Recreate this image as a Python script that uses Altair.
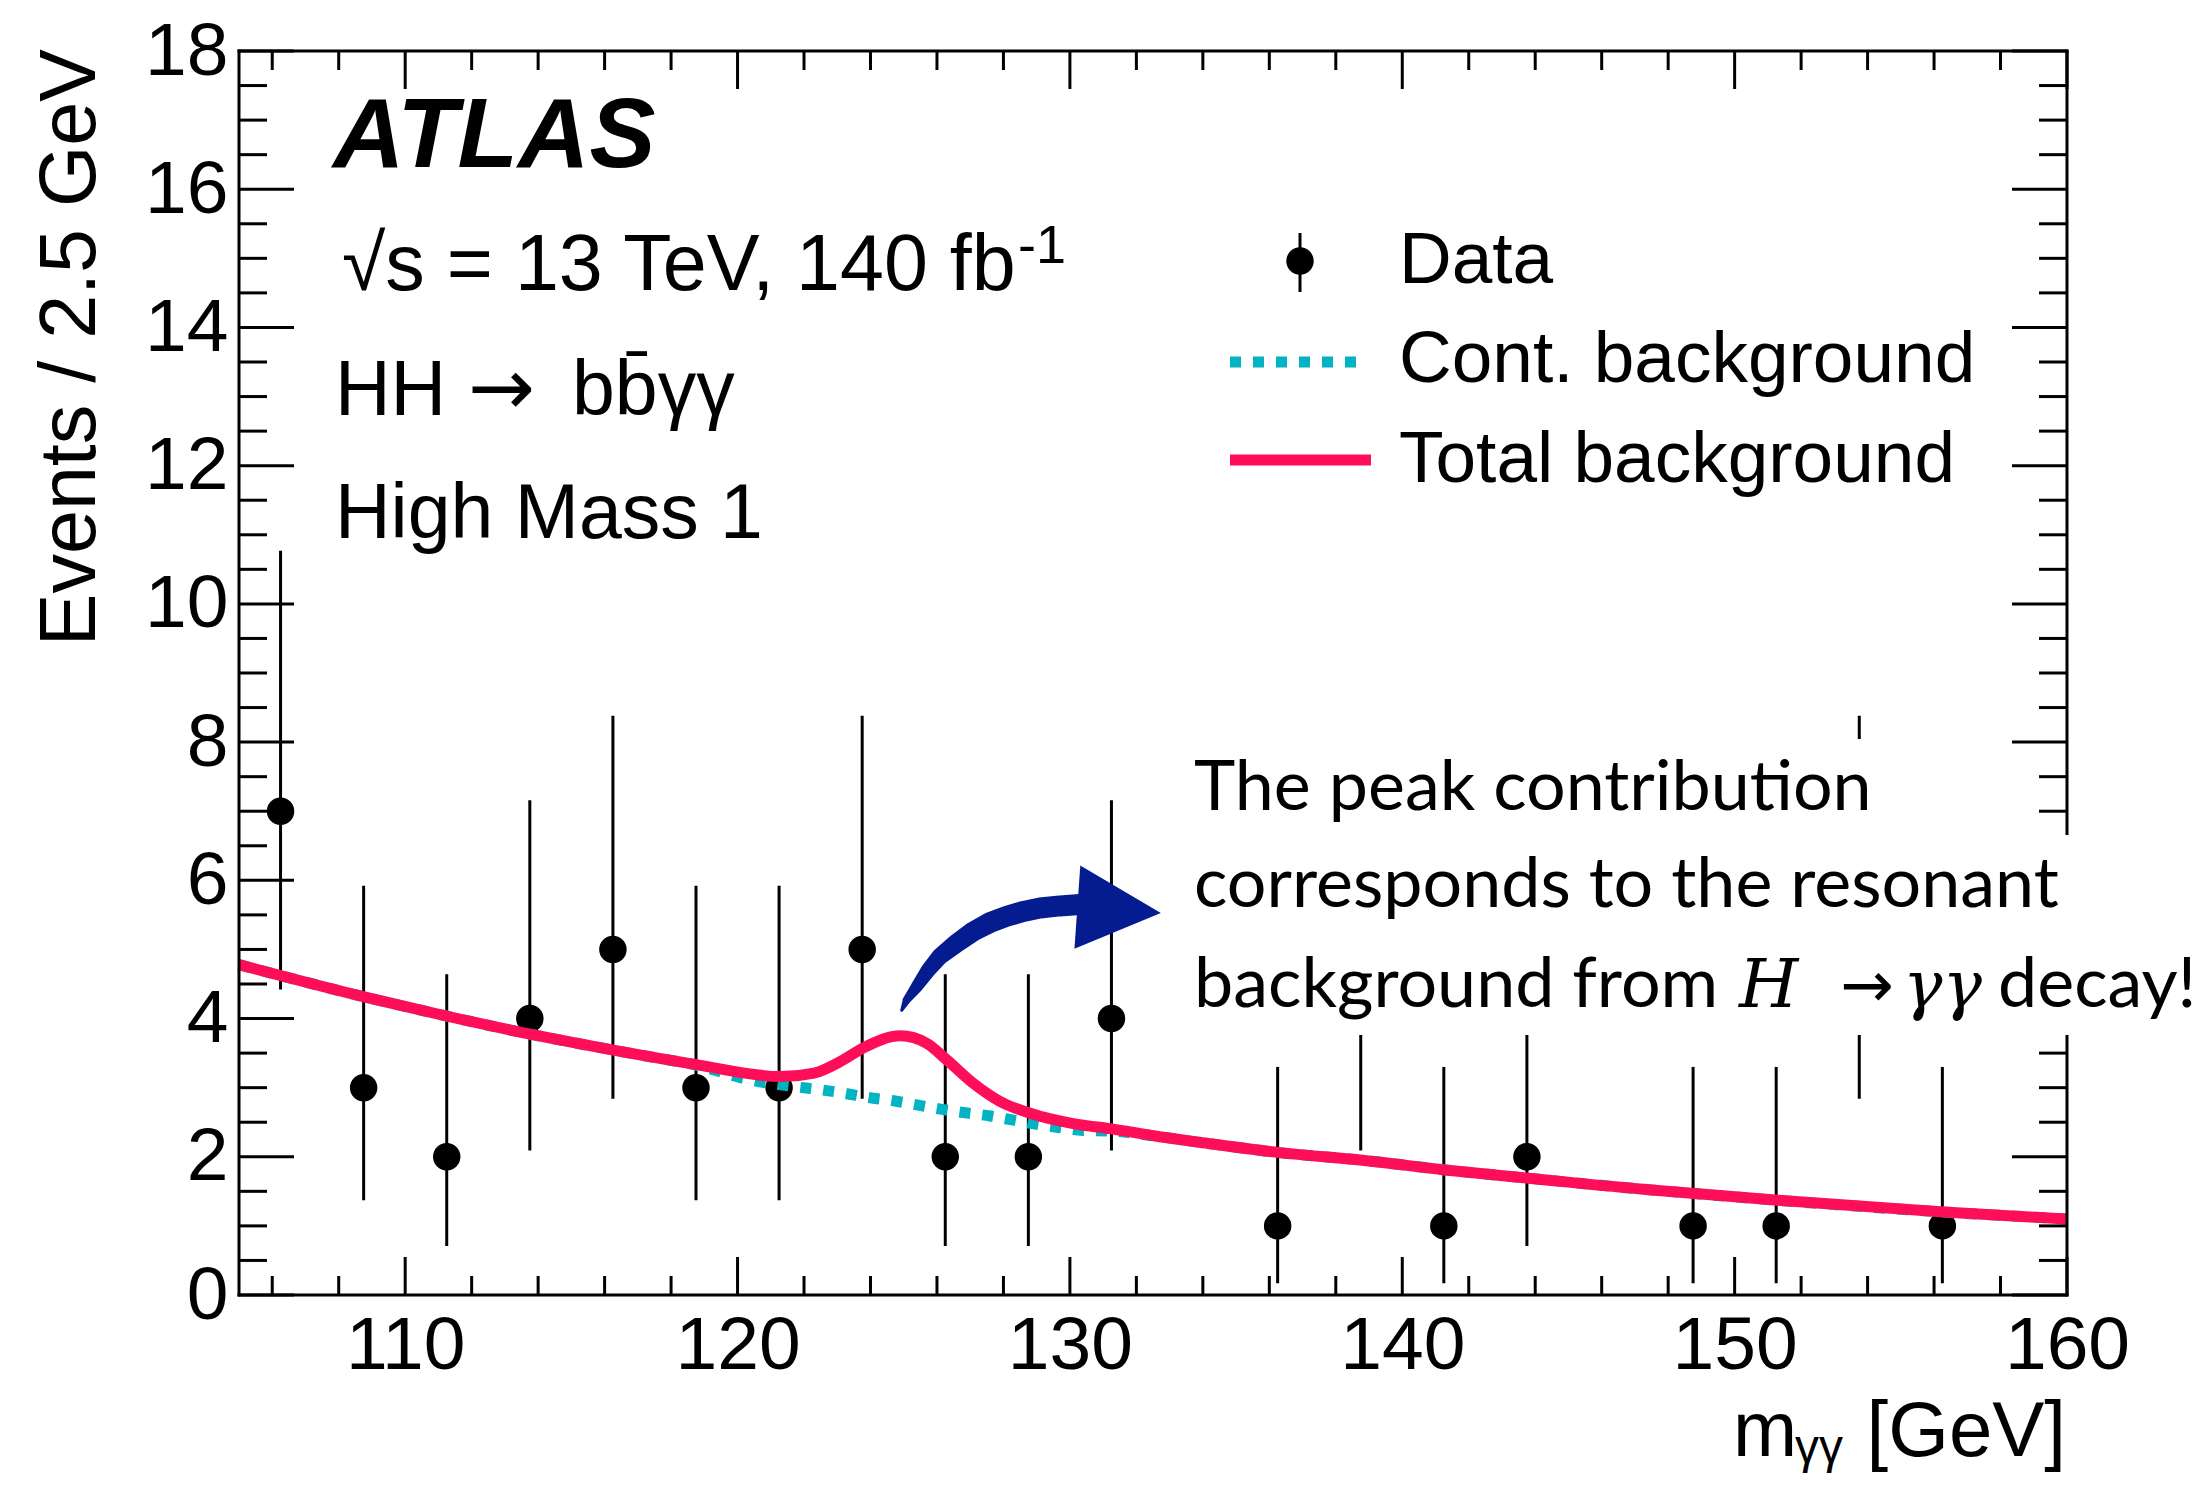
import altair as alt
import pandas as pd

# ---------------- values ----------------
bin_center = [106.25, 108.75, 111.25, 113.75, 116.25, 118.75, 121.25, 123.75, 126.25,
              128.75, 131.25, 136.25, 138.75, 141.25, 143.75, 148.75, 151.25, 153.75, 156.25]
events = [7, 3, 2, 4, 5, 3, 3, 5, 2, 2, 4, 1, 4, 1, 2, 1, 1, 5, 1]
err_low = [4.42, 1.37, 0.71, 2.09, 2.84, 1.37, 1.37, 2.84, 0.71, 0.71, 2.09, 0.17,
           2.09, 0.17, 0.71, 0.17, 0.17, 2.84, 0.17]
err_high = [10.77, 5.92, 4.64, 7.16, 8.38, 5.92, 5.92, 8.38, 4.64, 4.64, 7.16, 3.30,
            7.16, 3.30, 4.64, 3.30, 3.30, 8.38, 3.30]

total_x = [105.0, 108.8, 111.3, 113.8, 116.3, 117.1, 118.8, 121.3, 122.3, 123.1, 123.8,
           124.9, 125.7, 126.3, 127.1, 127.9, 128.8, 130.1, 131.3, 132.7, 133.9, 136.3,
           138.8, 141.3, 143.8, 147.5, 148.8, 151.3, 156.3, 160.0]
total_y = [4.78, 4.31, 4.03, 3.77, 3.54, 3.47, 3.33, 3.16, 3.21, 3.38, 3.58,
           3.75, 3.64, 3.40, 3.06, 2.80, 2.63, 2.48, 2.40, 2.29, 2.21, 2.06,
           1.95, 1.81, 1.69, 1.52, 1.47, 1.37, 1.20, 1.10]

cont_x = [105.0, 108.8, 111.3, 113.8, 116.3, 117.1, 118.8, 120.3, 121.8, 122.5, 123.2,
          123.9, 124.7, 125.4, 126.1, 126.8, 127.6, 128.3, 129.0, 129.7, 130.4, 131.3,
          132.7, 133.9, 136.3, 138.8, 141.3, 143.8, 147.5, 151.3, 156.3, 160.0]
cont_y = [4.78, 4.31, 4.03, 3.77, 3.54, 3.47, 3.32, 3.12, 3.01, 2.97, 2.92,
          2.86, 2.81, 2.75, 2.69, 2.64, 2.59, 2.53, 2.47, 2.42, 2.38, 2.37,
          2.29, 2.21, 2.06, 1.95, 1.81, 1.69, 1.52, 1.37, 1.20, 1.10]

x_major = [110, 120, 130, 140, 150, 160]
x_minor = [106, 108, 112, 114, 116, 118, 122, 124, 126, 128, 132, 134, 136, 138,
           142, 144, 146, 148, 152, 154, 156, 158]
y_major = [0, 2, 4, 6, 8, 10, 12, 14, 16, 18]
y_minor = [0.5, 1, 1.5, 2.5, 3, 3.5, 4.5, 5, 5.5, 6.5, 7, 7.5, 8.5, 9, 9.5, 10.5, 11,
           11.5, 12.5, 13, 13.5, 14.5, 15, 15.5, 16.5, 17, 17.5]

# hand-drawn annotation arrow (path in data units, brush width in px)
arrow_x = [124.94, 125.09, 125.39, 125.74, 126.09, 126.59, 127.09, 127.60, 128.10,
           128.60, 129.10, 129.70, 130.30]
arrow_y = [4.12, 4.27, 4.46, 4.70, 4.90, 5.09, 5.26, 5.39, 5.48, 5.55, 5.60, 5.63, 5.65]
arrow_w = [3, 8, 12, 15, 17, 19, 20, 21, 21, 21, 21, 21, 21]
arrow_head_x = [131.48]
arrow_head_y = [5.57]

# ---------------- styling ----------------
W, H = 1828, 1244
BLACK = "black"
RED = "#FE0E58"
CYAN = "#02B3C3"
NAVY = "#051C91"
SANS = "Liberation Sans"

xs = alt.Scale(domain=[105, 160], nice=False, zero=False)
ys = alt.Scale(domain=[0, 18], nice=False, zero=False)

x_axis = alt.Axis(values=x_major, format="d", labelFont=SANS, labelFontSize=75,
                  labelColor=BLACK, labelPadding=14, ticks=False, tickSize=0,
                  domain=False, grid=False, title=None, labelFlush=False,
                  labelOverlap=False)
y_axis = alt.Axis(values=y_major, format="d", labelFont=SANS, labelFontSize=75,
                  labelColor=BLACK, labelPadding=11, ticks=False, tickSize=0,
                  domain=False, grid=False, title=None, labelOverlap=False)


def X(field):
    return alt.X(field, scale=xs, axis=x_axis)


def Y(field):
    return alt.Y(field, scale=ys, axis=y_axis)


one = pd.DataFrame({"k": [0]})


def label(text, x, y, size, font=SANS, style="normal", weight="normal",
          align="left", angle=0, color=BLACK):
    return alt.Chart(one).mark_text(
        text=text, font=font, fontSize=size, fontStyle=style, fontWeight=weight,
        align=align, baseline="alphabetic", angle=angle, color=color
    ).encode(x=alt.value(x), y=alt.value(y))


def prule(x, x2, y, y2, width=3, color=BLACK, dash=None, cap="square"):
    kw = dict(color=color, strokeWidth=width, strokeCap=cap)
    if dash is not None:
        kw["strokeDash"] = dash
    return alt.Chart(one).mark_rule(**kw).encode(
        x=alt.value(x), x2=alt.value(x2), y=alt.value(y), y2=alt.value(y2))


def prect(x, x2, y, y2):
    return alt.Chart(one).mark_rect(color="white").encode(
        x=alt.value(x), x2=alt.value(x2), y=alt.value(y), y2=alt.value(y2))


data_df = pd.DataFrame({"m": bin_center, "n": events, "lo": err_low, "hi": err_high})
total_df = pd.DataFrame({"m": total_x, "v": total_y})
cont_df = pd.DataFrame({"m": cont_x, "v": cont_y})
arrow_df = pd.DataFrame({"m": arrow_x, "v": arrow_y, "w": arrow_w,
                         "i": list(range(len(arrow_x)))})
head_df = pd.DataFrame({"m": arrow_head_x, "v": arrow_head_y})

# data points with error bars
errbars = alt.Chart(data_df).mark_rule(color=BLACK, strokeWidth=3).encode(
    x=X("m:Q"), y=Y("lo:Q"), y2="hi:Q")
points = alt.Chart(data_df).mark_point(filled=True, size=755, color=BLACK, opacity=1).encode(
    x=X("m:Q"), y=Y("n:Q"))

cont_line = alt.Chart(cont_df).mark_line(
    color=CYAN, strokeWidth=11, strokeDash=[11, 12], strokeCap="butt",
    interpolate="monotone").encode(x=X("m:Q"), y=Y("v:Q"))
total_line = alt.Chart(total_df).mark_line(
    color=RED, strokeWidth=11, interpolate="monotone").encode(x=X("m:Q"), y=Y("v:Q"))

arrow_body = alt.Chart(arrow_df).mark_trail(color=NAVY, opacity=1).encode(
    x=X("m:Q"), y=Y("v:Q"), size=alt.Size("w:Q", scale=None), order=alt.Order("i:Q"))
arrow_head = alt.Chart(head_df).mark_point(
    shape="M -1 -1 L 1 0 L -1 1 Z", filled=True, size=7000, angle=4,
    color=NAVY, opacity=1).encode(x=X("m:Q"), y=Y("v:Q"))

# frame and inward ticks (ROOT style)
xmaj_df = pd.DataFrame({"t": x_major})
xmin_df = pd.DataFrame({"t": x_minor})
ymaj_df = pd.DataFrame({"t": y_major})
ymin_df = pd.DataFrame({"t": y_minor})


def xticks(df, length):
    bottom = alt.Chart(df).mark_rule(color=BLACK, strokeWidth=3).encode(
        x=X("t:Q"), y=alt.value(H), y2=alt.value(H - length))
    top = alt.Chart(df).mark_rule(color=BLACK, strokeWidth=3).encode(
        x=X("t:Q"), y=alt.value(0), y2=alt.value(length))
    return [bottom, top]


def yticks(df, length):
    left = alt.Chart(df).mark_rule(color=BLACK, strokeWidth=3).encode(
        y=Y("t:Q"), x=alt.value(0), x2=alt.value(length))
    right = alt.Chart(df).mark_rule(color=BLACK, strokeWidth=3).encode(
        y=Y("t:Q"), x=alt.value(W), x2=alt.value(W - length))
    return [left, right]


frame = [prule(0, W, 0, 0), prule(0, W, H, H), prule(0, 0, 0, H), prule(W, W, 0, H)]
ticks = xticks(xmaj_df, 38) + xticks(xmin_df, 19) + yticks(ymaj_df, 55) + yticks(ymin_df, 28)

# annotation boxes and text
boxes = [prect(945, 1641, 688, 784), prect(945, 1836, 784, 884), prect(945, 1964, 884, 984)]
ANN = "Lato"
MATH = "DejaVu Serif"
annotation = [
    label("The peak contribution", 955, 759, 70, font=ANN),
    label("corresponds to the resonant", 955, 856, 70, font=ANN),
    label("background from", 955, 956, 70, font=ANN),
    label("H", 1500, 956, 68, font=MATH, style="italic"),
    label("\u2192", 1601, 956, 64, font="DejaVu Sans"),
    label("\u03b3\u03b3", 1664, 956, 66, font=MATH, style="italic"),
    label("decay!", 1759, 956, 70, font=ANN),
]

# ATLAS labels
texts = [
    label("ATLAS", 94, 116, 99, weight="bold", style="italic"),
    label("\u221as = 13 TeV, 140 fb", 103, 239, 79),
    label("-1", 779, 212, 54),
    label("HH", 96, 364, 77),
    label("\u2192", 229, 364, 80, font="DejaVu Sans"),
    label("bb\u0304\u03b3\u03b3", 333, 364, 77),
    label("High Mass 1", 96, 487, 77),
]

# legend
legend = [
    prule(1061, 1061, 182, 241, cap="butt"),
    alt.Chart(one).mark_point(filled=True, size=755, color=BLACK, opacity=1).encode(
        x=alt.value(1061), y=alt.value(210)),
    label("Data", 1160, 232, 73),
    prule(991, 1127, 311, 311, width=11, color=CYAN, dash=[11, 12], cap="butt"),
    label("Cont. background", 1160, 331, 73),
    prule(991, 1132, 409, 409, width=11, color=RED, cap="butt"),
    label("Total background", 1160, 431, 73),
]

# axis titles
titles = [
    label("Events / 2.5 GeV", -144, -2, 79, align="right", angle=270),
    label("m", 1494, 1405, 77),
    label("\u03b3\u03b3", 1556, 1412, 48),
    label("[GeV]", 1827, 1405, 78, align="right"),
]

layers = ([errbars, points, cont_line, total_line, arrow_body, arrow_head]
          + frame + ticks + boxes + annotation + texts + legend + titles)

chart = alt.layer(*layers).properties(
    width=W, height=H,
    autosize=alt.AutoSizeParams(type="none"),
    padding={"left": 231, "top": 43, "right": 128, "bottom": 181},
    background="white",
).configure_view(stroke=None)

chart.save("out.html", embed_options={"renderer": "svg", "actions": False})
